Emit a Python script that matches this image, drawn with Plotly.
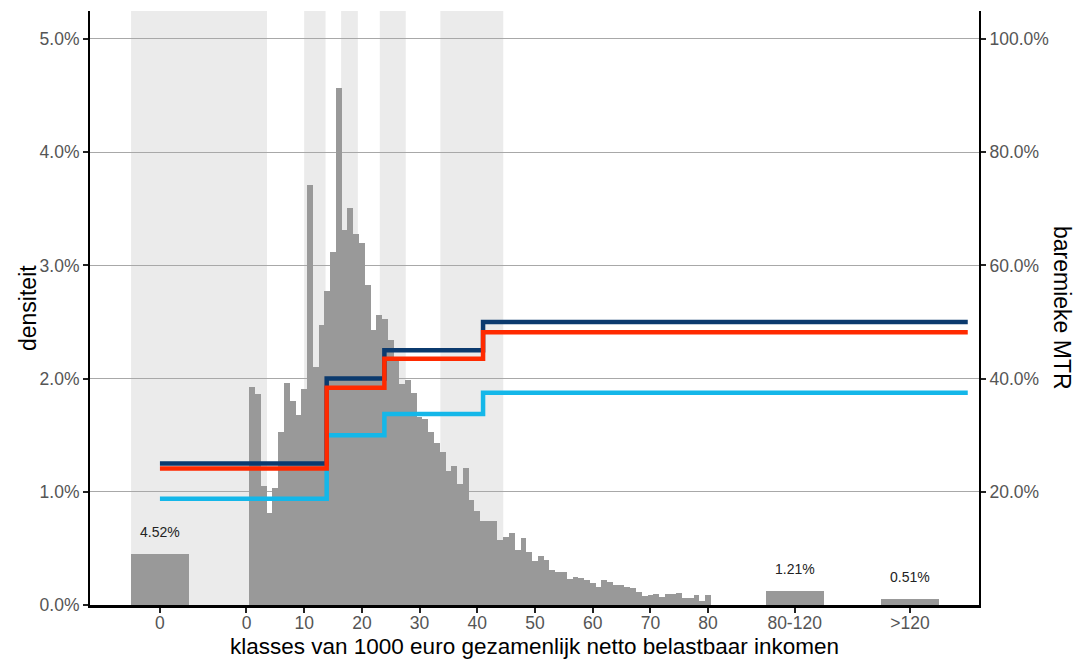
import plotly.graph_objects as go

# ---------------- data ----------------
# histogram: density (%) per 1000-euro class, classes 1..80 (k thousand euro)
hist_k = list(range(1, 81))
hist_density = [
    1.93, 1.86, 1.05, 0.81, 1.03, 1.53, 1.96, 1.80, 1.68, 1.91,
    3.71, 2.10, 2.47, 2.77, 3.12, 4.57, 3.31, 3.51, 3.28, 3.20,
    2.83, 2.43, 2.56, 2.53, 2.34, 2.19, 1.95, 1.99, 1.87, 1.66,
    1.64, 1.53, 1.43, 1.35, 1.18, 1.23, 1.07, 1.21, 0.93, 0.83,
    0.74, 0.74, 0.74, 0.57, 0.60, 0.64, 0.49, 0.59, 0.47, 0.39,
    0.43, 0.40, 0.31, 0.29, 0.29, 0.23, 0.245, 0.24, 0.22, 0.19,
    0.156, 0.22, 0.205, 0.18, 0.18, 0.16, 0.15, 0.118, 0.08, 0.09,
    0.095, 0.074, 0.094, 0.094, 0.109, 0.062, 0.065, 0.09, 0.033, 0.085,
]

# special (wide) classes: position on the axis, share in %
special_pos = [-15, 95, 115]
special_share = [4.52, 1.21, 0.51]
special_labels = ["4.52%", "1.21%", "0.51%"]
special_width = 10

# shaded bands (in thousand euro on the axis)
band_start = [-20, 10.0, 16.4, 23.1, 33.6]
band_end = [3.55, 13.7, 19.3, 27.6, 44.5]

# marginal tax rate step lines (right axis, %)
mtr_breaks = [-15, 13.9, 23.9, 41.0, 125]
mtr_navy = [25, 40, 45, 50]
mtr_red = [24.1, 38.4, 43.5, 48.2]
mtr_light = [18.75, 30, 33.75, 37.5]

# x tick labels
x_tickvals = [-15, 0, 10, 20, 30, 40, 50, 60, 70, 80, 95, 115]
x_ticktext = ["0", "0", "10", "20", "30", "40", "50", "60", "70", "80", "80-120", ">120"]
y_tickvals = [0, 1, 2, 3, 4, 5]
y2_tickvals = [20, 40, 60, 80, 100]

# ---------------- figure ----------------
FONT = "Liberation Sans, Arial, sans-serif"
fig = go.Figure()

fig.add_trace(go.Bar(
    x=hist_k, y=hist_density, width=[1] * len(hist_k),
    marker=dict(color="#999999", line=dict(width=0)),
    showlegend=False, hoverinfo="skip",
))
fig.add_trace(go.Bar(
    x=special_pos, y=[s / special_width for s in special_share],
    width=[special_width] * len(special_pos),
    marker=dict(color="#999999", line=dict(width=0)),
    showlegend=False, hoverinfo="skip",
))


def step_y(vals):
    return list(vals) + [vals[-1]]


for vals, col in [(mtr_light, "#14B7E9"), (mtr_navy, "#0B3A6E"), (mtr_red, "#FF2A00")]:
    fig.add_trace(go.Scatter(
        x=mtr_breaks, y=step_y(vals), mode="lines", line_shape="hv",
        line=dict(color=col, width=4.5), yaxis="y2",
        showlegend=False, hoverinfo="skip",
    ))

for x0, x1 in zip(band_start, band_end):
    fig.add_shape(type="rect", xref="x", yref="y domain", x0=x0, x1=x1, y0=0, y1=1,
                  fillcolor="#EBEBEB", line=dict(width=0), layer="below")

for p, s, t in zip(special_pos, special_share, special_labels):
    fig.add_annotation(x=p, y=s / special_width, xref="x", yref="y", text=t,
                       showarrow=False, yshift=22, xanchor="center", yanchor="middle",
                       font=dict(size=14, color="#222222", family=FONT))

# axis titles as annotations
fig.add_annotation(xref="paper", yref="paper", x=0, y=0.5, xshift=-62, text="densiteit",
                   textangle=-90, showarrow=False, xanchor="center", yanchor="middle",
                   font=dict(size=23, color="black", family=FONT))
fig.add_annotation(xref="paper", yref="paper", x=1, y=0.5, xshift=83, text="baremieke MTR",
                   textangle=90, showarrow=False, xanchor="center", yanchor="middle",
                   font=dict(size=23, color="black", family=FONT))
fig.add_annotation(xref="paper", yref="paper", x=0.5, y=0, yshift=-41,
                   text="klasses van 1000 euro gezamenlijk netto belastbaar inkomen",
                   showarrow=False, xanchor="center", yanchor="middle",
                   font=dict(size=22.5, color="black", family=FONT))

fig.update_layout(
    width=1080, height=660,
    margin=dict(l=90, r=101, t=11, b=55),
    paper_bgcolor="white", plot_bgcolor="white",
    barmode="overlay", bargap=0,
    font=dict(family=FONT),
    xaxis=dict(
        range=[-27.12, 126.95], tickmode="array", tickvals=x_tickvals, ticktext=x_ticktext,
        showgrid=False, zeroline=False, showline=True, linecolor="black", linewidth=2.5,
        ticks="outside", ticklen=5, tickwidth=1.5, tickcolor="#222222",
        ticklabelstandoff=-5,
        tickfont=dict(size=17.5, color="#555555", family=FONT),
    ),
    yaxis=dict(
        range=[0, 5.247], tickmode="array", tickvals=y_tickvals,
        ticktext=[f"{v:.1f}%" for v in y_tickvals],
        showgrid=True, gridcolor="#A8A8A8", gridwidth=1.2, zeroline=False,
        showline=True, linecolor="black", linewidth=2,
        ticks="outside", ticklen=5, tickwidth=1.5, tickcolor="#222222",
        tickfont=dict(size=17.5, color="#555555", family=FONT),
    ),
    yaxis2=dict(
        range=[0, 104.94], overlaying="y", side="right", tickmode="array",
        tickvals=y2_tickvals, ticktext=[f"{v:.1f}%" for v in y2_tickvals],
        showgrid=False, zeroline=False, showline=True, linecolor="black", linewidth=2,
        ticks="outside", ticklen=5, tickwidth=1.5, tickcolor="#222222",
        tickfont=dict(size=17.5, color="#555555", family=FONT),
    ),
)

fig.write_html(
    "out.html",
    config={"displayModeBar": False},
    post_script="document.body.style.margin='0';document.body.style.overflow='hidden';",
)
